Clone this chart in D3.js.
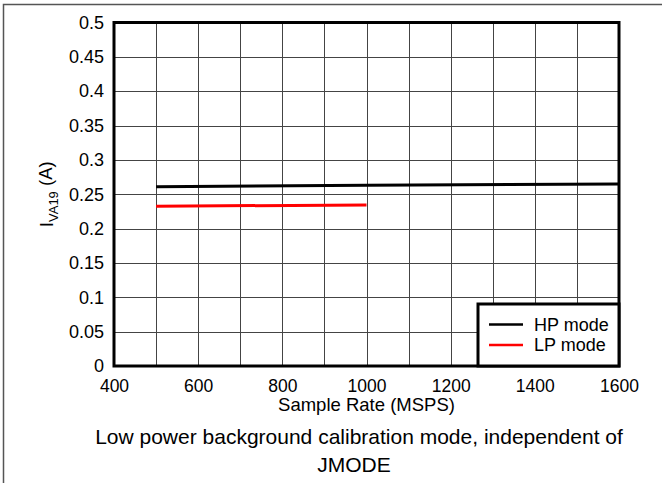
<!DOCTYPE html>
<html><head><meta charset="utf-8">
<script src="https://cdn.jsdelivr.net/npm/d3@7"></script>
<style>html,body{margin:0;padding:0;background:#fff;}svg{display:block;font-family:"Liberation Sans",Arial,Helvetica,sans-serif;}</style>
</head><body>
<script>
const hpRate = [500, 1000, 1600];
const hpCurrent = [0.261, 0.263, 0.265];
const lpRate = [500, 1000];
const lpCurrent = [0.2325, 0.2345];
const xTicks = [400, 600, 800, 1000, 1200, 1400, 1600];
const yTicks = [0, 0.05, 0.1, 0.15, 0.2, 0.25, 0.3, 0.35, 0.4, 0.45, 0.5];
const xGrid = [500, 600, 700, 800, 900, 1000, 1100, 1200, 1300, 1400, 1500];
const seriesNames = ["HP mode", "LP mode"];
const seriesColors = ["#000000", "#ff0000"];

const W = 662, H = 483;
const L = 114, R = 619, T = 22.5, B = 366;
const svg = d3.select("body").append("svg").attr("width", W).attr("height", H);

// outer frame
svg.append("path").attr("d", `M3.5,${H} L3.5,4.5 L${W},4.5`).attr("fill","none").attr("stroke","#555").attr("stroke-width",1.5);

const x = d3.scaleLinear().domain([400, 1600]).range([L, R]);
const y = d3.scaleLinear().domain([0, 0.5]).range([B, T]);

const g = svg.append("g");
g.selectAll("line.vg").data(xGrid).join("line").attr("class","vg")
  .attr("x1", d => Math.round(x(d)) + 0.5).attr("x2", d => Math.round(x(d)) + 0.5)
  .attr("y1", T).attr("y2", B).attr("stroke", "#444").attr("stroke-width", 1);
g.selectAll("line.hg").data(yTicks.filter(d => d > 0 && d < 0.5)).join("line").attr("class","hg")
  .attr("y1", d => Math.round(y(d)) + 0.5).attr("y2", d => Math.round(y(d)) + 0.5)
  .attr("x1", L).attr("x2", R).attr("stroke", "#444").attr("stroke-width", 1);

const FONT = "Liberation Sans, Arial, sans-serif";
const xAxis = d3.axisBottom(x).tickValues(xTicks).tickSize(0).tickPadding(14).tickFormat(d3.format("d"));
const xa = svg.append("g").attr("transform", `translate(0,${B})`).call(xAxis);
xa.select(".domain").remove();
xa.selectAll("text").attr("font-size", 17.5).attr("fill", "#000").attr("font-family", FONT);

const yAxis = d3.axisLeft(y).tickValues(yTicks).tickSize(0).tickPadding(10).tickFormat(d => String(d));
const ya = svg.append("g").attr("transform", `translate(${L},0)`).call(yAxis);
ya.select(".domain").remove();
ya.selectAll("text").attr("font-size", 18).attr("fill", "#000").attr("font-family", FONT);

// data lines
const line = d3.line().x(d => x(d[0])).y(d => y(d[1]));
svg.append("path").datum(hpRate.map((r, i) => [r, hpCurrent[i]])).attr("d", line)
  .attr("fill","none").attr("stroke", seriesColors[0]).attr("stroke-width", 3);
svg.append("path").datum(lpRate.map((r, i) => [r, lpCurrent[i]])).attr("d", line)
  .attr("fill","none").attr("stroke", seriesColors[1]).attr("stroke-width", 3);

// plot frame
svg.append("rect").attr("x", L).attr("y", T).attr("width", R - L).attr("height", B - T)
  .attr("fill","none").attr("stroke","#000").attr("stroke-width",3);

// legend
const lg = svg.append("g");
lg.append("rect").attr("x", 478).attr("y", 304).attr("width", 141).attr("height", 62)
  .attr("fill","#fff").attr("stroke","#000").attr("stroke-width",3);
seriesNames.forEach((n, i) => {
  const yy = 324.5 + i * 20.5;
  lg.append("line").attr("x1", 489).attr("x2", 523).attr("y1", yy).attr("y2", yy)
    .attr("stroke", seriesColors[i]).attr("stroke-width", 2.5);
  lg.append("text").attr("x", 534).attr("y", yy).attr("dy","0.35em").attr("font-size", 18).text(n);
});

// axis titles
svg.append("text").attr("x", (L + R) / 2).attr("y", 405).attr("dy","0.35em").attr("text-anchor","middle")
  .attr("font-size", 18.5).text("Sample Rate (MSPS)");
const yt = svg.append("text").attr("transform", `translate(47,${(T + B) / 2}) rotate(-90)`)
  .attr("text-anchor","middle").attr("dy","0.35em").attr("font-size", 18.5);
yt.append("tspan").text("I");
yt.append("tspan").attr("font-size", 13).attr("dy", "0.35em").text("VA19");
yt.append("tspan").attr("dy", "-0.35em").text(" (A)");

// caption
svg.append("text").attr("x", 359).attr("y", 437).attr("dy","0.35em").attr("text-anchor","middle")
  .attr("font-size", 21).text("Low power background calibration mode, independent of");
svg.append("text").attr("x", 354).attr("y", 465).attr("dy","0.35em").attr("text-anchor","middle")
  .attr("font-size", 21).text("JMODE");
</script>
</body></html>
